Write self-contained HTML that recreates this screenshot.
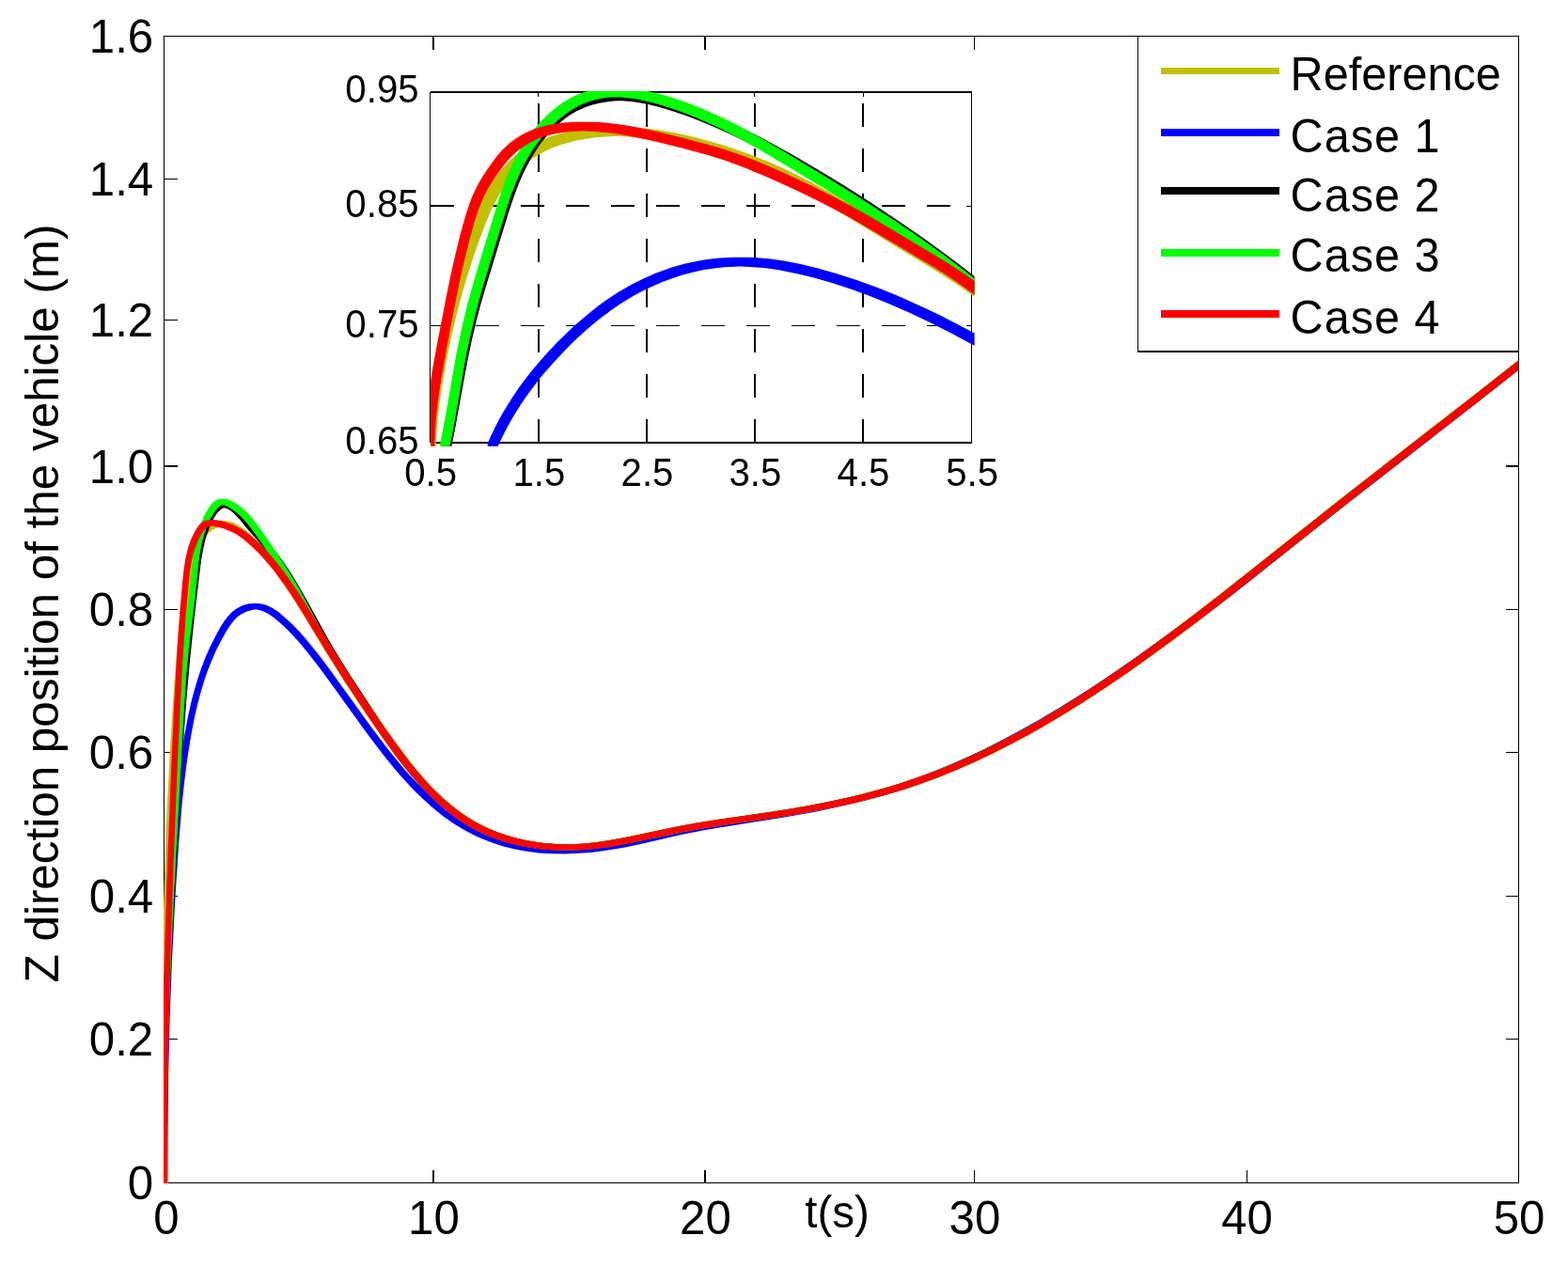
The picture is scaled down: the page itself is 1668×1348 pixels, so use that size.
<!DOCTYPE html>
<html lang="en"><head><meta charset="utf-8"><title>Z direction position of the vehicle</title>
<style>html,body{margin:0;padding:0;background:#fff}body{width:1668px;height:1348px;overflow:hidden}svg{display:block}text{font-family:"Liberation Sans",sans-serif;fill:#000}</style>
</head><body>
<svg width="1668" height="1348" viewBox="0 0 1668 1348">
<rect x="0" y="0" width="1668" height="1348" fill="#fff"/>
<g stroke="#000" stroke-width="1.25" fill="none" shape-rendering="crispEdges">
<rect x="174.6" y="38.6" width="1441.1" height="1220.0"/>
<path d="M461.0 1258.6V1244.6M461.0 38.6V52.6"/>
<path d="M750.0 1258.6V1244.6M750.0 38.6V52.6"/>
<path d="M1036.5 1258.6V1244.6M1036.5 38.6V52.6"/>
<path d="M1326.2 1258.6V1244.6M1326.2 38.6V52.6"/>
<path d="M174.6 1105.5H188.6M1615.7 1105.5H1601.7"/>
<path d="M174.6 953.7H188.6M1615.7 953.7H1601.7"/>
<path d="M174.6 800.8H188.6M1615.7 800.8H1601.7"/>
<path d="M174.6 648.5H188.6M1615.7 648.5H1601.7"/>
<path d="M174.6 496.0H188.6M1615.7 496.0H1601.7"/>
<path d="M174.6 340.3H188.6M1615.7 340.3H1601.7"/>
<path d="M174.6 190.7H188.6M1615.7 190.7H1601.7"/>
</g>
<g fill-rule="evenodd" stroke="none">
<path fill="#c0c000" d="M227.1 554.6L224.6 555.4L220.0 557.7L215.9 560.6L212.2 564.3L209.0 568.3L206.4 572.6L204.2 577.1L202.4 582.0L200.3 589.3L198.8 596.8L197.0 606.9L195.1 619.4L193.5 631.9L191.8 647.0L188.6 684.5L184.6 739.5L181.1 794.6L178.2 849.6L175.8 907.1L174.0 965.6L174.0 1259.0L178.8 1259.0L179.0 1175.8L179.6 1100.6L180.6 1033.0L182.0 970.5L183.8 910.5L186.2 853.0L189.1 798.0L192.6 743.0L196.6 688.0L199.8 650.5L201.4 635.5L203.0 623.0L204.9 610.6L206.7 600.6L208.3 593.2L210.3 586.1L211.9 581.6L214.0 577.4L216.4 573.4L219.3 569.7L222.7 566.4L226.5 563.6L230.7 561.5L232.8 560.9L235.1 560.4L238.8 561.1L240.9 561.7L245.2 563.7L247.3 564.8L251.5 567.6L255.6 570.7L259.6 574.2L274.7 588.3L279.8 593.5L284.7 598.9L290.7 606.5L293.5 610.5L296.2 614.8L299.3 618.7L302.3 622.9L311.3 636.2L323.2 655.3L347.2 695.1L365.3 723.7L377.3 742.0L389.3 759.9L401.3 777.4L413.3 794.4L422.3 806.7L428.3 814.6L437.4 825.7L443.4 832.8L449.5 839.5L458.5 848.7L467.5 857.1L473.6 862.3L482.6 869.3L488.7 873.6L497.7 879.2L506.9 884.2L515.9 888.4L525.1 892.1L534.2 895.1L546.3 898.5L558.3 901.0L567.3 902.5L576.5 903.6L588.6 904.5L597.6 904.8L602.4 904.8L614.4 904.6L626.6 903.8L638.6 902.5L653.7 900.3L668.7 897.6L719.7 886.8L743.7 882.3L767.6 878.5L827.6 869.7L863.7 863.7L893.7 857.8L908.8 854.4L923.8 850.8L944.8 845.1L962.9 839.7L981.0 833.6L999.0 826.9L1017.0 819.6L1038.1 810.3L1056.1 801.8L1077.2 791.1L1095.2 781.4L1116.2 769.5L1134.2 758.7L1155.3 745.5L1176.3 731.8L1197.3 717.5L1218.3 702.7L1242.4 685.2L1272.4 662.7L1305.4 637.2L1434.4 535.1L1572.4 427.6L1615.1 394.1L1615.1 383.9L1614.2 383.9L1613.6 384.2L1565.6 421.9L1427.6 529.3L1298.6 631.5L1265.6 657.0L1235.6 679.5L1211.7 696.9L1190.7 711.6L1169.7 725.9L1148.7 739.6L1127.8 752.7L1109.8 763.5L1088.8 775.4L1070.9 785.1L1049.9 795.7L1031.9 804.2L1011.0 813.5L993.0 820.7L975.1 827.4L957.1 833.4L939.2 838.8L918.2 844.5L903.2 848.1L888.3 851.4L858.3 857.3L822.4 863.4L762.4 872.1L738.3 875.9L714.3 880.5L663.3 891.3L648.3 894.0L633.4 896.2L621.5 897.4L609.5 898.2L600.7 898.3L593.5 898.1L581.6 897.2L572.6 896.1L563.7 894.7L551.8 892.2L539.9 888.9L531.0 885.9L522.0 882.3L513.1 878.1L504.2 873.3L495.3 867.7L489.3 863.5L480.4 856.6L474.5 851.5L465.5 843.2L456.6 834.1L450.6 827.5L444.6 820.5L435.7 809.4L429.7 801.6L420.7 789.4L408.7 772.4L396.7 754.9L384.7 737.0L372.7 718.7L354.8 690.2L330.8 650.4L318.7 631.2L309.7 617.9L306.7 613.6L303.7 609.9L301.0 605.6L298.1 601.4L292.0 593.6L287.0 588.1L281.8 582.8L266.6 568.6L262.4 565.1L258.2 561.8L253.7 558.9L251.4 557.6L246.8 555.5L244.3 554.8L239.7 553.9L237.1 553.9L232.1 553.9L229.6 554.1Z"/>
<path fill="#0000ff" d="M223.8 687.4L218.8 698.8L214.3 710.4L211.1 719.8L207.4 731.9L204.1 744.1L201.3 756.4L198.7 768.7L196.0 783.6L193.7 798.6L191.6 813.5L189.4 831.0L187.4 850.9L185.6 870.8L183.8 893.2L179.8 955.5L176.5 1020.3L174.2 1080.2L174.0 1088.6L174.0 1259.0L178.0 1259.0L178.2 1203.4L179.0 1143.4L180.6 1083.5L182.9 1023.6L186.2 958.9L190.2 896.7L192.0 874.3L193.7 854.4L195.8 834.5L197.9 817.2L200.0 802.3L202.4 787.4L205.1 772.5L207.6 760.2L210.5 748.0L213.7 736.0L217.3 724.1L220.5 714.7L225.0 703.2L229.9 691.9L235.5 680.9L240.3 672.4L244.2 666.2L248.6 660.5L251.9 657.1L253.6 655.6L257.6 652.9L261.9 650.7L264.2 649.9L268.8 648.7L271.7 648.5L274.6 648.8L278.9 649.9L280.9 650.8L285.0 652.8L290.9 656.8L298.6 663.2L305.9 670.1L312.9 677.4L319.7 685.1L327.8 694.9L335.7 704.9L346.2 719.1L386.5 774.9L403.0 797.1L412.4 809.0L422.1 820.7L430.5 830.2L439.1 839.5L449.9 850.1L459.3 858.6L470.9 868.0L481.0 875.2L491.6 881.8L502.6 887.8L511.8 892.0L523.5 896.6L535.5 900.4L547.8 903.5L560.2 905.8L572.9 907.4L585.5 908.3L601.2 908.5L611.3 908.1L628.8 906.9L643.9 905.1L652.9 903.6L664.9 901.4L686.0 896.9L724.9 888.1L748.9 883.3L766.9 880.2L832.9 869.7L865.9 863.9L886.9 859.6L904.9 855.6L923.0 851.1L941.0 846.2L959.1 840.7L974.1 835.6L989.2 830.1L1007.2 823.0L1022.3 816.6L1040.3 808.5L1055.3 801.2L1073.4 792.1L1091.4 782.3L1112.4 770.4L1130.4 759.8L1148.5 748.6L1163.5 739.0L1178.5 729.1L1208.5 708.5L1250.6 678.5L1289.6 649.3L1304.6 637.8L1322.6 623.7L1400.6 561.7L1436.6 533.3L1571.6 428.2L1615.1 394.1L1615.1 384.5L1614.4 384.8L1566.4 422.5L1431.4 527.6L1395.4 556.0L1317.4 618.0L1299.4 632.1L1284.4 643.6L1245.5 672.7L1203.5 702.7L1173.5 723.3L1158.5 733.2L1143.5 742.7L1125.6 753.8L1107.6 764.5L1086.6 776.3L1068.7 786.0L1050.7 795.2L1035.7 802.4L1017.8 810.5L1002.8 816.8L984.8 823.9L969.9 829.4L954.9 834.4L937.0 839.9L919.0 844.8L901.0 849.3L883.1 853.3L862.1 857.5L829.1 863.4L763.1 873.8L745.1 876.9L721.0 881.7L682.1 890.6L661.1 895.1L649.1 897.3L640.2 898.7L625.2 900.5L607.9 901.7L599.0 902.0L588.8 901.9L576.4 901.0L564.0 899.4L551.7 897.1L539.6 894.1L527.7 890.4L516.2 885.9L507.2 881.7L496.4 875.9L486.1 869.4L476.1 862.2L464.5 852.9L455.3 844.6L444.6 834.1L436.0 824.9L427.7 815.4L418.1 803.8L408.8 791.9L392.3 769.9L352.0 714.0L341.4 699.8L333.5 689.7L325.3 679.8L318.5 672.0L311.3 664.6L303.9 657.7L296.1 651.1L289.9 646.9L285.5 644.7L283.2 643.7L278.5 642.5L273.6 641.9L270.2 641.9L265.2 642.3L260.1 643.6L257.4 644.6L252.6 647.0L248.5 649.8L246.4 651.6L242.9 655.3L238.4 661.1L234.3 667.6L229.5 676.2Z"/>
<path fill="#000000" d="M231.7 535.1L229.7 536.4L228.0 537.8L224.7 541.6L221.8 546.1L219.2 551.0L216.0 558.4L213.5 565.8L211.4 573.2L209.3 583.0L207.6 593.0L206.3 602.9L200.2 655.0L195.8 697.4L192.0 739.8L187.6 799.8L183.2 872.3L178.1 964.8L174.7 1040.0L174.0 1061.0L174.0 1259.0L178.0 1259.0L177.5 1209.2L177.9 1158.4L179.1 1103.3L181.1 1043.3L184.5 968.2L189.5 875.7L194.0 803.2L198.4 743.3L202.2 700.9L206.6 658.5L212.7 606.5L214.0 596.7L215.6 586.9L217.7 577.1L219.7 569.9L222.3 562.7L225.3 555.5L227.7 550.9L230.4 546.8L233.3 543.4L234.9 542.1L236.4 541.1L238.1 540.5L238.7 540.3L240.2 540.7L242.2 541.5L244.1 542.5L248.0 545.4L253.5 551.0L263.6 563.2L276.2 577.5L282.4 585.0L288.6 593.0L294.6 601.3L300.4 609.7L305.8 618.2L311.0 626.7L320.8 644.0L342.2 683.0L348.4 693.9L354.9 704.7L367.2 724.1L401.5 776.5L412.3 792.0L421.4 804.4L430.4 816.2L436.4 823.6L445.4 834.2L451.5 840.8L460.5 849.9L466.6 855.6L475.6 863.3L481.7 868.0L490.7 874.4L499.9 880.0L508.9 884.8L518.1 889.0L527.2 892.5L539.3 896.4L548.3 898.8L560.4 901.3L572.5 903.1L584.6 904.2L593.7 904.7L608.9 904.7L621.0 904.2L633.1 903.1L648.1 901.1L666.2 897.9L681.2 894.9L720.2 886.6L744.1 882.1L765.1 878.7L825.1 870.0L861.1 864.0L891.2 858.1L906.2 854.8L921.2 851.2L942.3 845.6L960.3 840.2L978.4 834.2L996.5 827.6L1014.5 820.3L1035.5 811.2L1056.5 801.2L1074.6 792.1L1092.6 782.4L1113.6 770.5L1134.7 757.9L1155.7 744.7L1176.7 730.9L1197.8 716.6L1218.8 701.8L1242.8 684.3L1272.8 661.8L1302.9 638.6L1431.8 536.4L1572.8 426.6L1615.1 393.5L1615.1 383.7L1567.7 420.9L1426.7 530.7L1297.7 632.9L1267.7 656.0L1237.7 678.5L1213.7 696.0L1192.7 710.8L1171.8 725.1L1150.8 738.8L1129.8 752.0L1108.9 764.5L1087.9 776.4L1069.9 786.0L1052.0 795.1L1031.0 805.0L1010.0 814.2L992.1 821.4L974.1 828.0L956.2 834.0L938.2 839.3L917.3 844.9L902.3 848.5L887.3 851.8L857.4 857.7L821.4 863.7L761.4 872.4L740.4 875.7L716.3 880.2L677.3 888.6L662.4 891.6L644.4 894.7L629.5 896.7L617.6 897.8L605.9 898.3L596.9 898.3L588.0 897.8L576.1 896.7L564.1 894.9L552.2 892.5L543.3 890.1L531.4 886.3L522.5 882.8L513.6 878.8L504.7 874.0L495.7 868.5L486.8 862.2L480.9 857.6L471.9 850.0L466.0 844.5L457.0 835.4L451.1 828.9L442.1 818.4L436.1 811.0L427.1 799.3L418.2 787.0L407.3 771.5L373.1 719.2L360.9 699.8L354.4 689.1L348.2 678.2L326.8 639.2L316.9 621.9L311.7 613.3L306.2 604.8L300.4 596.3L294.3 587.9L288.1 579.9L281.8 572.2L269.3 557.9L259.1 545.7L253.2 539.8L249.1 536.7L246.8 535.4L244.5 534.5L242.1 533.9L239.6 533.8L236.2 533.8L233.8 534.2Z"/>
<path fill="#00ff00" d="M229.9 532.2L227.9 533.5L226.1 535.1L224.3 537.1L221.3 541.4L217.3 548.5L214.1 555.6L211.5 562.8L209.3 570.2L207.6 577.6L206.3 585.1L205.0 595.0L201.5 629.9L194.8 684.8L192.0 714.8L189.1 757.2L181.0 904.7L177.2 979.8L174.6 1042.5L174.0 1060.2L174.0 1259.0L178.0 1259.0L177.6 1211.8L177.9 1161.0L179.0 1105.9L181.0 1045.8L183.6 983.2L187.4 908.1L195.5 760.6L198.3 718.2L201.1 688.3L207.9 633.5L211.3 598.6L212.7 588.8L214.0 581.5L215.6 574.2L217.7 567.1L220.3 560.0L223.4 553.0L227.2 546.2L230.1 542.2L231.6 540.5L233.2 539.2L234.8 538.1L236.4 537.4L237.2 537.3L238.6 537.6L240.7 538.4L242.8 539.4L246.9 541.9L252.6 546.2L257.8 551.2L262.7 556.7L268.9 564.7L279.4 579.6L294.6 602.5L302.5 614.8L312.6 631.8L333.1 669.6L341.0 683.4L353.0 703.0L365.0 722.0L377.0 740.4L389.0 758.3L413.0 793.0L422.0 805.3L431.0 817.0L440.1 828.0L449.1 838.2L455.2 844.6L464.3 853.5L473.3 861.4L479.4 866.3L488.4 872.8L497.5 878.6L506.5 883.6L515.7 888.0L524.8 891.7L536.9 895.7L546.0 898.2L558.1 900.8L570.1 902.8L582.2 904.1L594.3 904.7L609.5 904.7L621.6 904.1L633.7 903.0L648.8 901.0L666.8 897.8L720.8 886.4L741.8 882.5L765.8 878.6L825.7 869.9L861.8 863.9L891.9 858.0L906.9 854.7L921.9 851.1L942.9 845.4L961.0 840.0L979.1 834.0L997.1 827.3L1018.1 818.8L1036.2 810.9L1054.2 802.3L1075.3 791.7L1093.3 782.0L1114.3 770.1L1135.3 757.5L1156.4 744.3L1177.4 730.5L1198.4 716.1L1219.5 701.3L1243.5 683.8L1273.5 661.3L1303.5 638.1L1432.5 535.9L1573.5 426.1L1615.1 393.5L1615.1 383.7L1568.3 420.4L1427.3 530.2L1298.3 632.4L1268.3 655.5L1238.4 678.1L1214.4 695.5L1193.4 710.3L1172.4 724.6L1151.4 738.4L1130.5 751.6L1109.5 764.1L1088.5 776.0L1070.6 785.7L1049.6 796.3L1031.7 804.7L1013.7 812.6L992.7 821.1L974.8 827.7L956.8 833.7L938.9 839.1L917.9 844.8L903.0 848.4L888.0 851.7L858.0 857.5L822.1 863.6L762.1 872.3L738.1 876.1L717.0 880.1L663.0 891.5L645.1 894.6L630.1 896.6L618.2 897.7L606.3 898.3L597.6 898.3L585.6 897.7L573.7 896.4L561.8 894.5L549.9 891.9L541.0 889.5L529.1 885.5L520.2 881.8L511.2 877.6L502.3 872.6L493.4 867.0L484.5 860.5L478.5 855.7L469.6 847.9L460.7 839.2L454.7 832.9L445.7 822.8L436.8 811.8L427.8 800.2L418.8 787.9L394.8 753.3L382.8 735.4L370.9 717.0L358.9 698.1L346.9 678.6L339.1 664.9L318.6 627.1L308.4 609.9L300.5 597.6L285.2 574.6L274.7 559.6L268.4 551.5L263.3 545.7L257.8 540.5L251.8 536.0L247.6 533.4L245.2 532.3L242.9 531.4L240.5 530.8L238.0 530.7L234.5 530.7L232.1 531.2Z"/>
<path fill="#ff0000" d="M211.1 559.5L208.1 563.9L205.6 568.7L203.4 573.6L200.7 580.8L199.2 585.9L197.5 593.2L195.5 605.7L193.9 620.7L191.0 655.6L188.2 695.6L185.2 750.4L181.9 822.9L178.2 915.3L175.4 1000.3L174.0 1054.5L174.0 1259.0L178.0 1259.0L178.1 1201.1L178.8 1138.6L180.0 1073.6L181.8 1003.6L184.6 918.7L188.3 826.2L191.6 753.8L194.6 698.9L197.4 659.1L200.3 624.2L201.8 609.3L203.8 597.1L205.5 589.8L206.9 585.1L209.6 577.9L211.7 573.2L214.1 568.7L216.9 564.6L218.3 563.0L219.9 561.6L221.4 560.5L223.1 559.9L224.4 559.6L227.9 560.0L232.6 560.9L237.4 562.3L242.1 564.0L246.7 566.0L251.1 568.3L255.2 570.9L259.2 573.8L266.9 580.2L275.8 589.0L284.2 598.4L290.6 606.1L296.6 614.0L302.5 622.0L309.5 632.3L320.3 649.2L347.4 694.0L365.9 723.4L376.8 740.0L389.2 758.7L403.5 779.4L413.7 793.9L422.7 806.2L430.4 816.2L438.4 826.0L445.0 833.7L451.8 841.1L458.8 848.3L466.1 855.1L473.6 861.6L481.4 867.8L489.5 873.5L497.9 878.8L506.6 883.7L515.7 888.0L525.0 891.7L534.7 895.1L544.6 897.9L554.6 900.2L564.7 902.0L574.9 903.4L587.5 904.4L597.6 904.8L613.2 904.6L625.5 903.8L637.8 902.5L652.5 900.4L667.1 897.8L721.2 886.3L743.5 882.2L765.8 878.6L825.4 870.0L845.2 866.8L862.5 863.8L879.7 860.5L894.4 857.5L909.0 854.2L923.5 850.6L942.8 845.5L961.9 839.7L980.8 833.3L999.5 826.4L1018.0 818.8L1036.3 810.8L1054.4 802.2L1074.6 792.1L1094.5 781.4L1114.2 770.2L1133.6 758.6L1154.9 745.2L1175.9 731.5L1196.7 717.4L1219.2 701.5L1241.4 685.3L1271.4 662.9L1303.0 638.5L1432.3 536.1L1572.5 426.9L1615.1 393.5L1615.1 383.7L1567.3 421.2L1427.1 530.4L1297.8 632.7L1266.3 657.1L1236.3 679.6L1214.1 695.7L1191.6 711.5L1170.9 725.6L1150.0 739.3L1128.7 752.7L1109.3 764.2L1089.7 775.4L1069.9 786.0L1049.8 796.2L1031.8 804.7L1013.6 812.7L995.1 820.2L976.5 827.1L957.7 833.5L938.7 839.2L919.5 844.3L905.1 847.9L890.5 851.1L875.9 854.2L858.7 857.4L841.5 860.4L821.7 863.6L762.1 872.3L739.8 875.8L717.4 880.0L663.3 891.4L648.7 894.0L634.2 896.2L622.1 897.4L609.9 898.2L599.9 898.3L590.9 898.0L578.4 897.0L568.4 895.6L558.4 893.8L548.5 891.6L538.8 888.8L529.4 885.6L520.1 881.8L511.2 877.6L502.7 872.8L494.4 867.6L486.5 862.0L478.8 855.9L471.4 849.5L464.2 842.8L457.3 835.7L450.6 828.4L444.1 820.8L436.1 811.0L428.5 801.0L419.5 788.8L409.3 774.4L395.1 753.7L382.6 735.1L371.8 718.5L353.3 689.1L326.2 644.3L315.4 627.4L308.3 617.0L302.4 608.8L296.3 600.9L289.8 593.0L281.4 583.6L272.2 574.6L264.4 568.1L260.3 565.1L255.8 562.3L251.3 559.9L246.5 557.8L241.6 556.0L236.6 554.6L231.5 553.6L226.8 553.1L221.2 553.2L218.8 553.7L216.6 554.6L214.6 555.9L212.8 557.6Z"/>
</g>
<text transform="translate(163.2 1276.1) scale(1 1.030)" font-size="49.2" text-anchor="end">0</text>
<text transform="translate(163.2 1123.0) scale(1 1.030)" font-size="49.2" text-anchor="end">0.2</text>
<text transform="translate(163.2 971.2) scale(1 1.030)" font-size="49.2" text-anchor="end">0.4</text>
<text transform="translate(163.2 818.3) scale(1 1.030)" font-size="49.2" text-anchor="end">0.6</text>
<text transform="translate(163.2 666.0) scale(1 1.030)" font-size="49.2" text-anchor="end">0.8</text>
<text transform="translate(163.2 513.5) scale(1 1.030)" font-size="49.2" text-anchor="end">1.0</text>
<text transform="translate(163.2 357.8) scale(1 1.030)" font-size="49.2" text-anchor="end">1.2</text>
<text transform="translate(163.2 208.2) scale(1 1.030)" font-size="49.2" text-anchor="end">1.4</text>
<text transform="translate(163.2 56.1) scale(1 1.030)" font-size="49.2" text-anchor="end">1.6</text>
<text transform="translate(177.0 1313.0) scale(1 1.030)" font-size="49.2" text-anchor="middle">0</text>
<text transform="translate(461.4 1313.0) scale(1 1.030)" font-size="49.2" text-anchor="middle">10</text>
<text transform="translate(750.4 1313.0) scale(1 1.030)" font-size="49.2" text-anchor="middle">20</text>
<text transform="translate(1036.9 1313.0) scale(1 1.030)" font-size="49.2" text-anchor="middle">30</text>
<text transform="translate(1326.6 1313.0) scale(1 1.030)" font-size="49.2" text-anchor="middle">40</text>
<text transform="translate(1616.1 1313.0) scale(1 1.030)" font-size="49.2" text-anchor="middle">50</text>
<text transform="translate(890.5 1305.7)" font-size="47.5" text-anchor="middle">t(s)</text>
<text transform="translate(61.8 642.0) rotate(-90) scale(1 1.030)" font-size="49.4" text-anchor="middle">Z direction position of the vehicle (m)</text>
<rect x="1210.8" y="38.6" width="404.9" height="335.4" fill="#fff" stroke="#000" stroke-width="1.25" shape-rendering="crispEdges"/>
<path d="M1234.8 75.5H1361.1" stroke="#c0c000" stroke-width="7.6" fill="none" shape-rendering="crispEdges"/>
<text transform="translate(1372.6 95.7) scale(1 1.040)" font-size="48.6" text-anchor="start">Reference</text>
<path d="M1234.8 141.2H1361.1" stroke="#0000ff" stroke-width="7.6" fill="none" shape-rendering="crispEdges"/>
<text transform="translate(1372.6 161.5) scale(1 1.040)" font-size="48.6" text-anchor="start" letter-spacing="1">Case 1</text>
<path d="M1234.8 203.1H1361.1" stroke="#000000" stroke-width="7.6" fill="none" shape-rendering="crispEdges"/>
<text transform="translate(1372.6 224.5) scale(1 1.040)" font-size="48.6" text-anchor="start" letter-spacing="1">Case 2</text>
<path d="M1234.8 269.0H1361.1" stroke="#00ff00" stroke-width="7.6" fill="none" shape-rendering="crispEdges"/>
<text transform="translate(1372.6 288.9) scale(1 1.040)" font-size="48.6" text-anchor="start" letter-spacing="1">Case 3</text>
<path d="M1234.8 333.8H1361.1" stroke="#ff0000" stroke-width="7.6" fill="none" shape-rendering="crispEdges"/>
<text transform="translate(1372.6 354.7) scale(1 1.040)" font-size="48.6" text-anchor="start" letter-spacing="1">Case 4</text>
<rect x="457.6" y="97.6" width="576.1" height="373.3" fill="#fff"/>
<g stroke="#000" fill="none" shape-rendering="crispEdges">
<path stroke-width="2" stroke-dasharray="25 23" d="M572.9 471.3V97.6"/>
<path stroke-width="1" d="M572.9 97.6v5.5M572.9 470.9v-5.5"/>
<path stroke-width="2" stroke-dasharray="25 23" d="M688.0 471.3V97.6"/>
<path stroke-width="1" d="M688.0 97.6v5.5M688.0 470.9v-5.5"/>
<path stroke-width="2" stroke-dasharray="25 23" d="M802.9 471.3V97.6"/>
<path stroke-width="1" d="M802.9 97.6v5.5M802.9 470.9v-5.5"/>
<path stroke-width="2" stroke-dasharray="25 23" d="M918.0 471.3V97.6"/>
<path stroke-width="1" d="M918.0 97.6v5.5M918.0 470.9v-5.5"/>
<path stroke-width="2" stroke-dasharray="25 23" d="M457.6 219.0H1033.7"/>
<path stroke-width="1.2" stroke-dasharray="25 23" d="M457.6 346.3H1033.7"/>
<path stroke-width="1" d="M1033.7 219.0h-5.5"/>
<path stroke-width="1" d="M1033.7 346.3h-5.5"/>
</g>
<g stroke="#000" fill="none" shape-rendering="crispEdges"><path stroke-width="1.2" d="M457.6 97.6V470.9"/><path stroke-width="2" d="M457.6 470.9H1033.7"/><path stroke-width="2" d="M457.6 97.9H1033.7"/><path stroke-width="1.2" d="M1033.7 97.6V470.9"/></g>
<g fill-rule="evenodd" stroke="none">
<path fill="#c0c000" d="M503.0 235.0L496.9 251.4L491.9 265.7L486.4 282.5L482.1 297.0L477.3 313.9L472.9 331.0L468.8 348.1L465.1 365.3L461.6 382.6L458.2 402.4L458.2 474.7L463.7 474.7L464.1 464.9L465.2 450.0L466.7 435.2L468.6 420.4L470.9 405.6L474.0 388.4L477.4 371.2L481.1 354.1L485.2 337.0L489.5 320.1L494.3 303.2L498.6 288.9L504.0 272.2L509.0 258.0L515.1 241.6L519.8 230.1L523.9 221.1L527.2 214.5L530.7 208.1L534.4 201.9L538.5 195.9L542.8 190.2L547.5 184.8L552.6 179.7L558.0 174.9L563.7 170.4L569.8 166.4L576.1 162.8L582.7 159.5L589.6 156.6L596.7 154.1L603.9 152.0L613.6 149.6L623.5 147.7L633.4 146.3L643.3 145.4L653.0 145.0L658.0 145.0L667.8 145.4L680.1 146.5L692.3 148.1L704.5 150.1L716.7 152.5L731.2 155.9L743.2 159.1L757.5 163.2L771.7 167.8L785.8 172.8L806.7 181.0L818.1 186.0L829.5 191.2L840.7 196.7L851.8 202.4L873.8 214.5L902.0 231.0L950.8 261.0L994.9 287.7L1015.9 301.2L1026.4 308.4L1034.8 314.4L1035.5 314.8L1036.6 314.9L1036.6 299.4L1026.1 292.2L1005.0 278.7L960.9 251.9L912.0 221.9L883.8 205.3L861.6 193.2L850.4 187.4L839.1 181.8L827.7 176.6L816.1 171.6L795.1 163.3L780.8 158.3L766.4 153.6L752.0 149.4L739.9 146.2L725.2 142.8L713.0 140.4L700.6 138.3L688.1 136.7L675.7 135.6L665.7 135.2L645.5 135.2L635.4 135.6L625.4 136.6L615.3 137.9L605.2 139.9L595.1 142.3L587.7 144.6L580.4 147.2L573.1 150.2L566.4 153.5L559.7 157.3L553.3 161.6L547.4 166.1L541.8 171.1L536.5 176.5L531.6 182.1L527.0 188.1L522.8 194.3L519.0 200.7L515.4 207.3L512.0 214.1L507.8 223.2Z"/>
<path fill="#0000ff" d="M592.4 364.6L583.7 373.8L575.4 383.0L569.0 390.6L562.7 398.3L556.7 406.1L550.9 414.1L545.4 422.2L536.2 437.0L531.2 445.8L526.6 454.7L522.1 464.1L518.9 471.3L518.8 471.7L518.7 472.3L518.7 474.7L529.8 474.7L531.4 471.0L535.8 461.9L540.5 453.0L545.3 444.4L554.4 429.8L559.9 421.8L565.6 413.9L571.5 406.2L577.6 398.6L584.0 391.2L592.3 382.0L600.8 372.9L607.9 365.8L615.2 358.8L622.6 352.0L636.2 340.6L644.2 334.4L650.2 329.9L658.5 324.3L664.8 320.2L673.4 315.1L680.0 311.5L688.8 307.0L695.5 303.9L704.6 300.0L711.5 297.4L720.8 294.2L727.8 292.1L734.8 290.2L742.0 288.5L749.1 287.1L756.3 285.9L763.6 285.0L770.8 284.3L785.5 283.5L788.2 283.5L797.7 283.9L812.5 285.1L819.9 286.0L829.7 287.6L846.9 291.0L864.0 295.1L883.4 300.5L904.9 307.5L926.1 315.2L947.0 323.7L967.6 332.7L990.2 343.5L1012.4 354.7L1036.6 367.7L1036.6 354.6L1019.5 345.5L997.2 334.1L974.6 323.4L953.9 314.3L932.8 305.8L911.4 298.0L889.7 291.0L870.2 285.5L852.9 281.3L835.4 277.8L825.5 276.3L818.0 275.3L803.0 274.1L792.9 273.7L780.5 273.7L765.5 274.5L758.2 275.2L750.8 276.2L743.3 277.4L736.0 278.9L728.8 280.5L721.6 282.5L714.4 284.6L704.9 287.9L697.8 290.6L688.7 294.5L681.8 297.7L672.7 302.3L666.1 306.0L657.4 311.1L650.9 315.3L642.5 321.0L636.3 325.6L628.2 331.9L614.5 343.4L606.9 350.3L599.6 357.4Z"/>
<path fill="#000000" d="M558.9 156.1L554.9 162.8L550.1 171.8L546.7 178.8L542.6 188.3L537.1 202.4L530.9 221.3L506.8 300.1L501.9 317.1L497.3 334.2L492.7 353.7L488.1 375.8L484.3 395.4L475.0 447.1L470.1 471.8L470.1 474.7L480.4 474.7L484.7 452.9L494.1 401.2L497.8 381.6L502.4 359.7L507.0 340.3L511.5 323.3L516.4 306.5L540.5 227.7L546.7 208.9L552.0 195.0L556.0 185.8L559.3 179.0L564.1 170.0L567.9 163.6L572.0 157.2L576.4 151.1L581.0 145.3L585.9 139.8L591.0 134.6L596.5 129.7L602.2 125.2L606.1 122.5L612.3 118.8L616.6 116.7L623.3 113.8L630.2 111.5L637.4 109.7L644.6 108.4L652.0 107.6L658.4 107.2L661.7 107.3L671.5 108.0L678.7 109.0L688.3 110.8L697.9 113.1L707.5 115.7L719.3 119.4L731.1 123.5L742.7 128.0L754.3 132.7L765.8 137.8L779.4 144.1L793.0 150.8L806.4 157.7L821.9 166.1L837.2 174.7L854.6 184.8L874.0 196.4L893.1 208.1L912.0 220.1L928.6 230.9L945.2 241.9L975.8 263.1L992.0 274.8L1006.1 285.2L1022.1 297.4L1036.0 308.4L1036.6 308.7L1036.6 293.9L1030.0 288.7L1013.9 276.4L999.8 265.9L983.6 254.2L952.8 232.9L936.2 221.9L919.5 211.0L900.6 199.1L881.4 187.3L862.0 175.7L844.6 165.6L829.2 156.9L813.6 148.5L800.1 141.5L786.5 134.8L772.7 128.4L761.1 123.3L749.4 118.5L737.6 114.0L725.7 109.9L713.8 106.1L704.0 103.4L694.2 101.1L684.4 99.3L676.8 98.2L666.8 97.5L654.4 97.4L646.7 97.8L639.1 98.6L631.5 100.0L624.0 101.9L616.6 104.4L609.7 107.3L605.1 109.6L598.5 113.6L594.3 116.4L588.5 121.0L582.7 126.2L577.4 131.6L572.4 137.2L567.5 143.3L563.1 149.6Z"/>
<path fill="#00ff00" d="M550.9 163.1L547.3 169.7L544.0 176.5L540.0 185.7L534.7 199.7L528.5 218.7L505.7 293.4L500.2 312.8L495.7 329.7L490.6 351.5L486.5 371.0L482.9 390.5L474.0 442.0L471.2 456.8L468.2 471.8L468.1 474.7L478.5 474.7L481.0 462.7L483.8 447.8L492.7 396.3L496.2 376.8L500.3 357.5L505.4 335.8L509.8 318.9L515.3 299.7L538.0 225.1L544.2 206.2L549.5 192.4L553.4 183.4L556.6 176.8L560.0 170.4L563.8 164.0L567.8 157.9L573.5 149.9L579.6 142.3L584.5 136.8L589.7 131.5L595.3 126.5L601.1 121.8L607.3 117.5L613.6 113.7L617.9 111.5L624.6 108.7L629.1 107.2L636.0 105.5L643.1 104.3L650.2 103.6L655.1 103.4L659.8 103.5L667.1 104.2L674.4 105.1L684.2 106.9L694.0 109.2L703.7 111.9L713.3 114.9L722.7 118.2L732.1 121.7L743.6 126.5L754.9 131.5L766.1 136.8L779.3 143.6L792.4 150.6L807.6 159.1L822.6 167.9L873.9 198.8L897.3 213.3L918.4 226.7L951.7 248.8L968.2 260.1L982.4 270.2L996.6 280.4L1010.5 290.9L1024.3 301.5L1036.0 310.9L1036.6 311.2L1036.6 296.3L1032.2 292.8L1018.4 282.1L1004.4 271.6L990.2 261.3L975.9 251.1L959.4 239.8L925.9 217.7L904.8 204.3L881.4 189.7L830.0 158.8L814.9 150.0L799.7 141.4L786.5 134.3L773.1 127.5L761.8 122.2L750.4 117.1L738.8 112.3L729.3 108.7L719.8 105.4L710.0 102.3L700.1 99.6L690.2 97.2L688.3 96.9L625.7 96.9L622.7 97.6L617.9 99.3L610.9 102.2L606.3 104.6L599.6 108.6L593.2 113.0L587.3 117.8L581.5 123.0L576.1 128.5L571.0 134.1L564.7 142.0L558.8 150.3L554.7 156.6Z"/>
<path fill="#ff0000" d="M505.4 202.3L502.3 209.1L499.6 216.2L495.6 228.2L492.1 240.3L487.7 257.1L483.1 276.6L478.7 296.1L474.7 315.7L465.7 362.5L459.6 397.2L458.2 406.7L458.2 474.7L462.3 474.7L462.5 467.3L463.1 454.9L464.1 442.5L465.5 430.1L467.1 417.8L469.4 402.9L475.5 368.3L484.4 321.6L488.4 302.0L492.7 282.6L497.4 263.3L501.8 246.4L505.2 234.5L509.1 222.8L511.7 216.0L514.7 209.2L518.1 202.6L521.9 196.1L527.4 187.6L533.2 179.5L537.6 173.8L542.3 168.3L545.7 165.0L551.1 160.2L557.0 155.9L561.1 153.3L565.4 151.0L569.8 148.8L574.3 147.0L581.3 144.6L588.4 142.8L598.2 141.1L608.0 140.0L617.9 139.5L623.2 139.5L632.6 139.9L642.4 140.7L654.7 142.2L669.4 144.7L684.1 147.7L701.1 151.6L725.3 157.5L742.2 162.0L756.5 166.1L770.7 170.6L782.4 174.7L794.1 179.2L808.0 184.9L821.9 190.9L837.9 198.3L856.0 206.8L871.7 214.5L887.2 222.4L900.4 229.5L913.4 236.8L926.4 244.4L994.6 285.1L1007.1 293.0L1017.5 299.9L1027.8 307.2L1036.1 313.4L1036.6 313.7L1036.6 299.1L1025.2 291.0L1014.6 284.0L1002.0 276.0L933.8 235.3L920.8 227.7L907.6 220.3L894.3 213.2L878.8 205.2L863.0 197.5L844.9 188.9L828.8 181.6L814.8 175.5L800.8 169.7L789.0 165.2L777.1 161.0L762.8 156.5L748.3 152.4L731.4 147.9L707.2 141.9L690.0 138.0L675.2 135.0L660.3 132.5L647.8 130.9L637.8 130.1L627.7 129.7L612.8 129.7L602.7 130.2L592.7 131.3L582.4 133.2L575.1 135.0L567.8 137.5L563.0 139.4L558.3 141.7L553.8 144.2L549.4 146.9L543.1 151.6L537.5 156.4L533.9 160.0L528.9 165.8L524.4 171.7L518.5 180.0L512.8 188.7L508.8 195.4Z"/>
</g>
<text transform="translate(445.6 109.4) scale(1 1.055)" font-size="40.2" text-anchor="end">0.95</text>
<text transform="translate(445.6 231.4) scale(1 1.055)" font-size="40.2" text-anchor="end">0.85</text>
<text transform="translate(445.6 359.0) scale(1 1.055)" font-size="40.2" text-anchor="end">0.75</text>
<text transform="translate(445.6 483.0) scale(1 1.055)" font-size="40.2" text-anchor="end">0.65</text>
<text transform="translate(458.1 516.5) scale(1 1.035)" font-size="40.2" text-anchor="middle">0.5</text>
<text transform="translate(573.4 516.5) scale(1 1.035)" font-size="40.2" text-anchor="middle">1.5</text>
<text transform="translate(688.5 516.5) scale(1 1.035)" font-size="40.2" text-anchor="middle">2.5</text>
<text transform="translate(803.4 516.5) scale(1 1.035)" font-size="40.2" text-anchor="middle">3.5</text>
<text transform="translate(918.5 516.5) scale(1 1.035)" font-size="40.2" text-anchor="middle">4.5</text>
<text transform="translate(1034.2 516.5) scale(1 1.035)" font-size="40.2" text-anchor="middle">5.5</text>
</svg>
</body></html>
